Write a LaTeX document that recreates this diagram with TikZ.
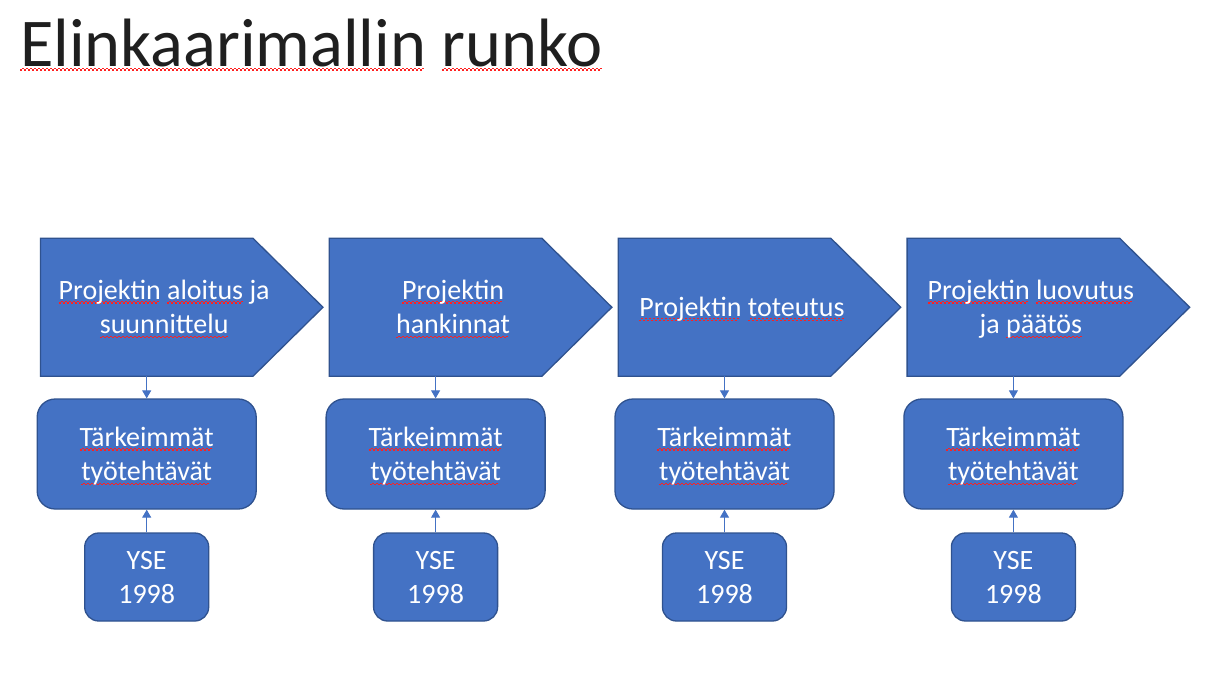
\documentclass[tikz,border=0pt]{standalone}
\usepackage{fontspec}
\setmainfont{Carlito}
\usetikzlibrary{arrows.meta,calc}
\newlength\pxu
\setlength\pxu{0.75pt}
\definecolor{accfill}{HTML}{4472C4}
\definecolor{accline}{HTML}{2F528F}
\definecolor{sqred}{HTML}{FF2020}
\newsavebox\sqbox
\newcommand\spellsq[1]{\sbox\sqbox{#1}\rlap{\color{sqred}\leaders\hbox{\rule[-4.6\pxu]{2\pxu}{1.2\pxu}\rule[-3.2\pxu]{2\pxu}{1.2\pxu}}\hskip\wd\sqbox}\usebox\sqbox}
\newcommand\topstrut{\rule{0pt}{28\pxu}}
\newcommand\botstrut{\rule[-9.5\pxu]{0pt}{9.5\pxu}}
\tikzset{
  titletext/.style={inner sep=0pt, font=\fontsize{51.3}{60}\selectfont, text=black!88},
  bodybox/.style={inner sep=0pt, minimum width=159pt, minimum height=103.1pt, draw=none},
  phase/.style={fill=accfill, draw=accline, line width=0.975pt, line join=miter},
  phtext/.style={inner sep=0pt, align=center, text=white, font=\fontsize{21}{25.875}\selectfont},
  taskbox/.style={fill=accfill, draw=accline, line width=0.975pt, rounded corners=13.5pt,
    minimum width=164.25pt, minimum height=82.5pt, inner sep=0pt, align=center, text=white,
    font=\fontsize{21}{25.875}\selectfont},
  ysebox/.style={fill=accfill, draw=accline, line width=0.975pt, rounded corners=10.5pt,
    minimum width=93pt, minimum height=66pt, inner sep=0pt, align=center, text=white,
    font=\fontsize{21}{25.875}\selectfont},
  conn/.style={draw=accfill, line width=0.75pt, -{Triangle[width=6.75pt,length=6pt]}}
}
\begin{document}
\begin{tikzpicture}[x=0.75pt,y=-0.75pt]
\fill[white] (0,0) rectangle (1229,683);
\useasboundingbox (0,0) rectangle (1229,683);

\node[titletext, anchor=base west] (title) at (20,66) {\spellsq{Elinkaarimallin} \spellsq{runko}};

% phase arrows
\foreach \i/\cx in {0/146.7, 1/435.6, 2/724.5, 3/1013.4}{
  \node[bodybox] (b\i) at (\cx,307.25) {};
  \path[phase] (b\i.north west) -- (b\i.north east) -- ($(b\i.east)+(70,0)$) -- (b\i.south east) -- (b\i.south west) -- cycle;
}

\node[phtext] (pt0) at (164.2,307) {\topstrut\spellsq{Projektin} \spellsq{aloitus} ja\\\spellsq{suunnittelu}\botstrut};
\node[phtext] (pt1) at (453.1,307) {\topstrut\spellsq{Projektin}\\\spellsq{hankinnat}\botstrut};
\node[phtext] (pt2) at (742.0,307) {\topstrut\botstrut\spellsq{Projektin} \spellsq{toteutus}};
\node[phtext] (pt3) at (1030.9,307) {\topstrut\spellsq{Projektin} \spellsq{luovutus}\\ja \spellsq{päätös}\botstrut};

% task boxes
\node[taskbox] (k0) at (146.7,454) {\topstrut\spellsq{Tärkeimmät}\\\spellsq{työtehtävät}\botstrut};
\node[taskbox] (k1) at (435.6,454) {\topstrut\spellsq{Tärkeimmät}\\\spellsq{työtehtävät}\botstrut};
\node[taskbox] (k2) at (724.5,454) {\topstrut\spellsq{Tärkeimmät}\\\spellsq{työtehtävät}\botstrut};
\node[taskbox] (k3) at (1013.4,454) {\topstrut\spellsq{Tärkeimmät}\\\spellsq{työtehtävät}\botstrut};

% YSE boxes
\node[ysebox] (y0) at (146.7,577) {\topstrut YSE\\1998\botstrut};
\node[ysebox] (y1) at (435.6,577) {\topstrut YSE\\1998\botstrut};
\node[ysebox] (y2) at (724.5,577) {\topstrut YSE\\1998\botstrut};
\node[ysebox] (y3) at (1013.4,577) {\topstrut YSE\\1998\botstrut};

% connectors
\foreach \i in {0,...,3}{
  \draw[conn] (b\i.south) -- (k\i.north);
  \draw[conn] (y\i.north) -- (k\i.south);
}
\end{tikzpicture}
\end{document}
